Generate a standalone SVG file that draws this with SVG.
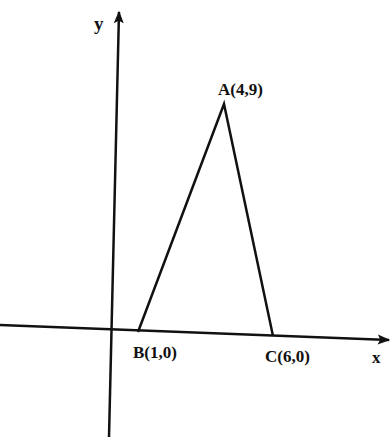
<svg xmlns="http://www.w3.org/2000/svg" width="392" height="440" viewBox="0 0 392 440">
<style>
.ax{stroke:#111;stroke-width:2.5;fill:none}
.tri{stroke:#111;stroke-width:2.5;fill:none;stroke-linejoin:miter}
text{font-family:"Liberation Serif","Times New Roman",serif;font-weight:bold;font-size:17px;fill:#111}
</style>
<defs>
<marker id="arr" viewBox="0 0 10 10" refX="9" refY="5" markerWidth="6" markerHeight="5" orient="auto-start-reverse" markerUnits="strokeWidth">
<path d="M0,1 L10,5 L0,9 L2,5 z" fill="#111"/>
</marker>
</defs>
<rect width="392" height="440" fill="#fff"/>
<g id="connectors">
<line id="yaxis" class="ax" x1="109" y1="437" x2="119" y2="12" marker-end="url(#arr)"/>
<line id="xaxis" class="ax" x1="0" y1="325" x2="389" y2="340" marker-end="url(#arr)"/>
<polyline class="tri" points="138,332 224,104 273,336"/>
</g>
<g id="y-label"><text x="94" y="30" style="font-size:19px">y</text></g>
<g id="x-label"><text x="372" y="363">x</text></g>
<g id="A"><text x="218" y="95">A(4,9)</text></g>
<g id="B"><text x="133" y="358">B(1,0)</text></g>
<g id="C"><text x="265" y="362">C(6,0)</text></g>
</svg>
